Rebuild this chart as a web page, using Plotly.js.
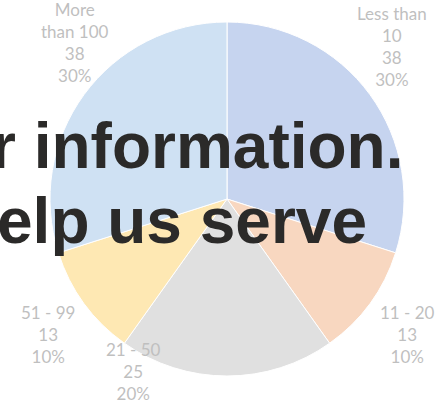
<!DOCTYPE html>
<html>
<head>
<meta charset="utf-8">
<script src="https://cdn.plot.ly/plotly-3.0.1.min.js"></script>
<style>
  body { margin: 0; background: #fff; }
  #chart { width: 444px; height: 403px; }
</style>
</head>
<body>
<div id="chart"></div>
<script>
let groups = ['Less than<br>10', '11 - 20', '21 - 50', '51 - 99', 'More<br>than 100'];
let counts = [38, 13, 25, 13, 38];
let sliceColors = ['#c6d4ef', '#f8d7c0', '#e0e0e0', '#fee8b3', '#cfe1f3'];

let overlayLines = ['r information.', 'elp us serve'];

// where each data label sits (pixel centre in the 444x403 picture)
let labelSpots = [[392, 47], [408, 334], [133, 371], [48, 334], [75, 42]];

let total = counts.reduce((a, b) => a + b, 0);
let mg = { l: 50, r: 40, t: 22, b: 27 };
let plotW = 444 - mg.l - mg.r;
let plotH = 403 - mg.t - mg.b;

let labelFont = { family: 'Lato, sans-serif', size: 17, color: '#bfbfbf' };
let bigFont = { family: 'Liberation Sans, Arial, sans-serif', size: 64, color: '#2b2a29', weight: 'bold' };

let notes = groups.map((g, i) => ({
  text: g + '<br>' + counts[i] + '<br>' + Math.round(counts[i] / total * 100) + '%',
  xref: 'paper', yref: 'paper',
  x: (labelSpots[i][0] - mg.l) / plotW,
  y: (403 - mg.b - labelSpots[i][1]) / plotH,
  xanchor: 'center', yanchor: 'middle',
  showarrow: false,
  font: labelFont
}));

notes.push({
  text: overlayLines[0],
  xref: 'paper', yref: 'paper',
  x: 1.003, y: 0.65,
  xanchor: 'right', yanchor: 'middle',
  showarrow: false,
  font: bigFont
});
notes.push({
  text: overlayLines[1],
  xref: 'paper', yref: 'paper',
  x: 0.901, y: 0.438,
  xanchor: 'right', yanchor: 'middle',
  showarrow: false,
  font: bigFont
});

let pie = {
  type: 'pie',
  labels: groups,
  values: counts,
  sort: false,
  direction: 'clockwise',
  rotation: 0,
  textinfo: 'none',
  hoverinfo: 'none',
  marker: {
    colors: sliceColors,
    line: { color: '#ffffff', width: 1 }
  }
};

let layoutPie = {
  width: 444,
  height: 403,
  margin: mg,
  showlegend: false,
  paper_bgcolor: '#ffffff',
  annotations: notes
};

Plotly.newPlot('chart', [pie], layoutPie, { displayModeBar: false, staticPlot: true });
</script>
</body>
</html>
